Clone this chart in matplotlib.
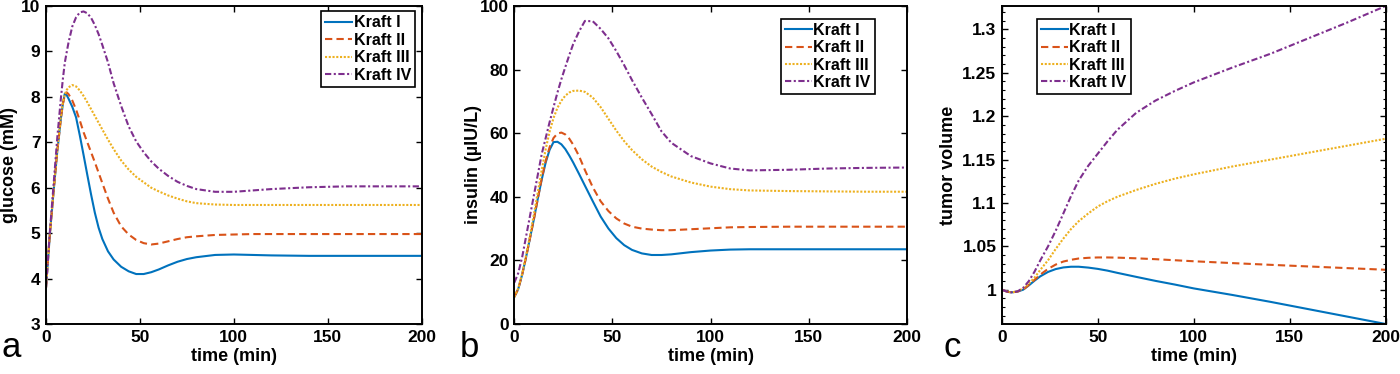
import matplotlib
matplotlib.use('Agg')
import matplotlib.pyplot as plt
from matplotlib.ticker import MultipleLocator, FuncFormatter

plt.rcParams['font.family'] = ['Liberation Sans', 'DejaVu Sans']
plt.rcParams['font.weight'] = 'bold'

labels = ['Kraft I', 'Kraft II', 'Kraft III', 'Kraft IV']
colors = ['#0072BD', '#D95319', '#EDB120', '#7E2F8E']
dashes = [None, (3.5, 2.0), (1.0, 0.8), (3.0, 1.2, 1.0, 1.2)]

# panel a: glucose (mM)
t_glu = [0, 2, 4, 6, 8, 9, 10, 11, 12, 14, 16, 18, 20, 22, 24, 26, 28, 30, 33, 36,
         40, 44, 48, 52, 56, 60, 65, 70, 75, 80, 90, 100, 110, 120, 140, 160, 180, 200]
glu_1 = [3.8, 4.95, 5.9, 6.8, 7.55, 7.85, 8.07, 8.04, 7.96, 7.78, 7.55, 7.15, 6.72, 6.28, 5.85, 5.45, 5.12, 4.87, 4.6, 4.42,
         4.26, 4.16, 4.1, 4.1, 4.14, 4.2, 4.29, 4.37, 4.43, 4.47, 4.52, 4.53, 4.52, 4.51, 4.5, 4.5, 4.5, 4.5]
glu_2 = [3.8, 4.95, 5.9, 6.8, 7.55, 7.85, 8.03, 8.1, 8.06, 7.92, 7.72, 7.48, 7.22, 7.0, 6.78, 6.56, 6.33, 6.1, 5.76, 5.45,
         5.15, 4.97, 4.85, 4.78, 4.75, 4.77, 4.82, 4.87, 4.91, 4.93, 4.96, 4.97, 4.98, 4.98, 4.98, 4.98, 4.98, 4.98]
glu_3 = [3.8, 4.95, 5.92, 6.85, 7.6, 7.88, 8.05, 8.15, 8.21, 8.26, 8.23, 8.14, 8.02, 7.88, 7.73, 7.58, 7.43, 7.28, 7.06, 6.85,
         6.6, 6.4, 6.24, 6.12, 6.0, 5.92, 5.83, 5.76, 5.7, 5.66, 5.63, 5.62, 5.62, 5.62, 5.62, 5.62, 5.62, 5.62]
glu_4 = [3.8, 5.0, 6.05, 7.1, 8.0, 8.4, 8.75, 8.98, 9.2, 9.55, 9.75, 9.86, 9.88, 9.84, 9.74, 9.58, 9.38, 9.14, 8.76, 8.3,
         7.8, 7.35, 7.02, 6.78, 6.58, 6.42, 6.26, 6.13, 6.04, 5.97, 5.91, 5.91, 5.94, 5.97, 6.01, 6.03, 6.03, 6.03]

# panel b: insulin (µIU/L)
t_ins = [0, 2, 4, 6, 8, 10, 12, 14, 16, 18, 20, 22, 24, 26, 28, 30, 33, 36,
         40, 44, 48, 52, 56, 60, 65, 70, 75, 80, 90, 100, 110, 120, 140, 160, 180, 200]
ins_1 = [8.5, 11, 15.5, 21, 27, 33, 39.5, 45.5, 50.8, 54.8, 57.2, 57.3, 56.5, 55, 53, 50.8, 47.2, 43.5,
         38.6, 33.8, 30.0, 27.0, 24.8, 23.3, 22.2, 21.7, 21.7, 21.9, 22.6, 23.1, 23.4, 23.5, 23.5, 23.5, 23.5, 23.5]
ins_2 = [8.5, 11, 15.5, 21, 27, 33, 39.5, 45.8, 51.3, 55.6, 58.5, 59.9, 60.2, 59.6, 58.3, 56.4, 52.8, 48.4,
         43.0, 38.6, 35.5, 33.2, 31.6, 30.6, 30.0, 29.7, 29.5, 29.5, 29.8, 30.1, 30.4, 30.5, 30.6, 30.6, 30.6, 30.6]
ins_3 = [8.5, 11.2, 15.8, 21.5, 27.8, 34.5, 41.5, 48.5, 55, 60.5, 64.8, 68, 70.2, 71.8, 72.8, 73.3, 73.4, 73.0,
         71.2, 68.2, 64.5, 60.8, 57.5, 54.7, 51.8, 49.5, 47.8, 46.4, 44.5, 43.2, 42.4, 42.0, 41.8, 41.7, 41.6, 41.6]
ins_4 = [13, 16, 21, 27.5, 34, 40.5, 47, 53.5, 58.5, 63.5, 68.2, 72.8, 77, 80.8, 84.5, 88, 92.0, 95.3,
         95.2, 92.8, 89.8, 85.8, 81.4, 76.7, 71.2, 66.0, 60.6, 57.0, 52.8, 50.5, 48.9, 48.3, 48.5, 48.9, 49.1, 49.2]

# panel c: tumor volume
t_vol = [0, 3, 5, 8, 11, 14, 17, 20, 24, 28, 32, 36, 40, 45, 50, 55, 60, 70, 80, 90, 100, 120, 140, 160, 180, 200]
vol_1 = [1.0, 0.9975, 0.997, 0.9978, 1.0, 1.005, 1.0105, 1.0155, 1.0205, 1.0238, 1.0257, 1.0265, 1.0265,
         1.0255, 1.024, 1.022, 1.0195, 1.0148, 1.0102, 1.006, 1.0015, 0.994, 0.986, 0.9775, 0.969, 0.9605]
vol_2 = [1.0, 0.9975, 0.997, 0.9978, 1.0, 1.0055, 1.0115, 1.0175, 1.024, 1.029, 1.0325, 1.0345, 1.036,
         1.0368, 1.0372, 1.0372, 1.037, 1.0362, 1.0352, 1.034, 1.0328, 1.0307, 1.0287, 1.0268, 1.0249, 1.023]
vol_3 = [1.0, 0.9975, 0.997, 0.998, 1.0015, 1.007, 1.014, 1.023, 1.034, 1.047, 1.059, 1.07, 1.079,
         1.088, 1.096, 1.102, 1.107, 1.115, 1.122, 1.128, 1.133, 1.142, 1.15, 1.158, 1.166, 1.174]
vol_4 = [1.0, 0.9975, 0.997, 0.998, 1.002, 1.01, 1.021, 1.034, 1.05, 1.068, 1.088, 1.108, 1.126,
         1.143, 1.157, 1.171, 1.184, 1.204, 1.218, 1.229, 1.239, 1.256, 1.272, 1.29, 1.308, 1.327]

fig = plt.figure(figsize=(14, 3.74), dpi=100)
bottom, height = 1 - 324 / 374, 318 / 374
ax_a = fig.add_axes([46 / 1400, bottom, 375.7 / 1400, height])
ax_b = fig.add_axes([514.3 / 1400, bottom, 392.4 / 1400, height])
ax_c = fig.add_axes([1002 / 1400, bottom, 383.7 / 1400, height])

leg_style = dict(borderaxespad=0, fancybox=False, edgecolor='black', framealpha=1, fontsize=11.5,
                 handlelength=1.7, handletextpad=0.1, labelspacing=0.15, borderpad=0.25)


def draw(ax, t, series):
    for y, lab, col, d in zip(series, labels, colors, dashes):
        line, = ax.plot(t, y, color=col, lw=1.5, label=lab)
        if d is not None:
            line.set_dashes(d)
    ax.set_xlim(0, 200)
    ax.set_xticks([0, 50, 100, 150, 200])
    ax.tick_params(direction='in', top=True, right=True, length=4, width=1, labelsize=12.5, pad=4)
    ax.tick_params(which='minor', direction='in', right=True, left=True, length=2.5, width=0.8)
    for s in ax.spines.values():
        s.set_linewidth(1.4)
    ax.set_xlabel('time (min)', fontsize=13, fontweight='bold')
    ax.xaxis.set_label_coords(0.5, -0.075)


draw(ax_a, t_glu, [glu_1, glu_2, glu_3, glu_4])
ax_a.set_ylim(3, 10)
ax_a.set_ylabel('glucose (mM)', fontsize=13, fontweight='bold')
ax_a.yaxis.set_label_coords(-0.075, 0.5)
ax_a.legend(loc='upper right', bbox_to_anchor=(0.983, 0.983), **leg_style).get_frame().set_linewidth(1.2)

draw(ax_b, t_ins, [ins_1, ins_2, ins_3, ins_4])
ax_b.set_ylim(0, 100)
ax_b.set_ylabel('insulin (µIU/L)', fontsize=13, fontweight='bold')
ax_b.yaxis.set_label_coords(-0.082, 0.5)
ax_b.legend(loc='upper right', bbox_to_anchor=(0.918, 0.96), **leg_style).get_frame().set_linewidth(1.2)

draw(ax_c, t_vol, [vol_1, vol_2, vol_3, vol_4])
all_vol = vol_1 + vol_2 + vol_3 + vol_4
ax_c.set_ylim(min(all_vol), max(all_vol))
ax_c.set_yticks([1, 1.05, 1.1, 1.15, 1.2, 1.25, 1.3])
ax_c.yaxis.set_major_formatter(FuncFormatter(lambda v, p: '%g' % round(v, 2)))
ax_c.yaxis.set_minor_locator(MultipleLocator(0.01))
ax_c.set_ylabel('tumor volume', fontsize=13, fontweight='bold')
ax_c.yaxis.set_label_coords(-0.118, 0.5)
ax_c.legend(loc='upper left', bbox_to_anchor=(0.09, 0.96), **leg_style).get_frame().set_linewidth(1.2)

for x, letter in [(11, 'a'), (469, 'b'), (952, 'c')]:
    fig.text(x / 1400, 1 - 357 / 374, letter, ha='center', va='baseline', fontsize=25, fontweight='normal')

fig.savefig('out.png', dpi=100)
